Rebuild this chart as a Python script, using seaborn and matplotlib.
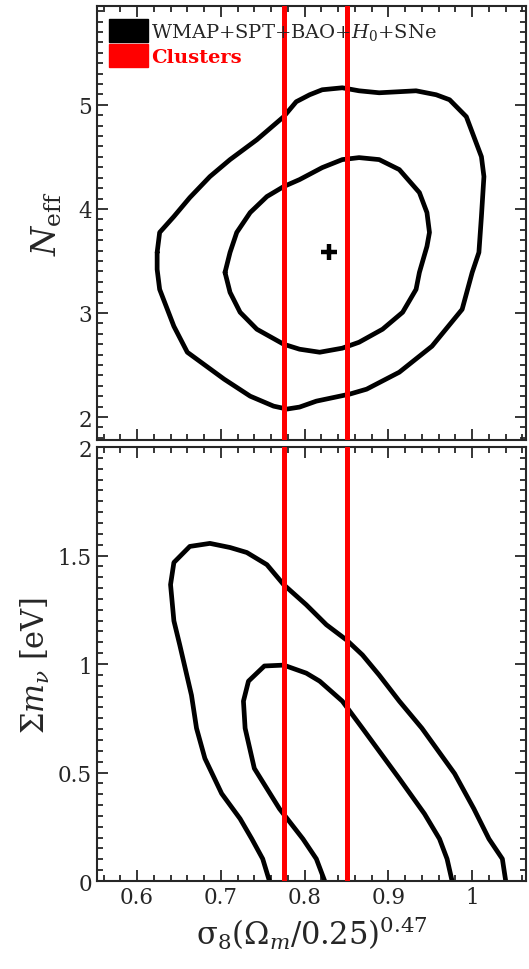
import matplotlib
matplotlib.use('Agg')
import matplotlib.pyplot as plt
from matplotlib.patches import Patch
from matplotlib.ticker import MultipleLocator, FuncFormatter
import seaborn as sns

# top panel: N_eff vs sigma8 (outer = 95%, inner = 68%)
neff_outer_x = [0.624, 0.627, 0.644, 0.663, 0.687, 0.711, 0.743, 0.775, 0.790, 0.806, 0.821, 0.845,
                0.865, 0.889, 0.933, 0.957, 0.973, 0.993, 1.011, 1.014, 1.011, 1.008, 1.000, 0.988,
                0.952, 0.913, 0.874, 0.854, 0.814, 0.794, 0.779, 0.763, 0.735, 0.704, 0.660, 0.644,
                0.627, 0.624, 0.624]
neff_outer_y = [3.582, 3.774, 3.927, 4.109, 4.311, 4.474, 4.665, 4.886, 5.030, 5.097, 5.145, 5.164,
                5.135, 5.116, 5.135, 5.097, 5.049, 4.886, 4.502, 4.311, 3.927, 3.582, 3.390, 3.035,
                2.681, 2.431, 2.268, 2.221, 2.153, 2.096, 2.077, 2.105, 2.201, 2.364, 2.623, 2.872,
                3.227, 3.419, 3.582]
neff_inner_x = [0.705, 0.711, 0.719, 0.735, 0.755, 0.775, 0.794, 0.821, 0.845, 0.865, 0.889, 0.913,
                0.937, 0.946, 0.949, 0.946, 0.937, 0.933, 0.917, 0.893, 0.865, 0.845, 0.818, 0.794,
                0.775, 0.743, 0.723, 0.711, 0.705]
neff_inner_y = [3.390, 3.582, 3.774, 3.965, 4.119, 4.215, 4.282, 4.397, 4.474, 4.493, 4.474, 4.378,
                4.157, 3.965, 3.774, 3.640, 3.390, 3.227, 3.007, 2.844, 2.719, 2.662, 2.623, 2.652,
                2.700, 2.844, 3.007, 3.198, 3.390]
best_fit = (0.829, 3.59)

# bottom panel: sum m_nu vs sigma8
mnu_outer_x = [0.758, 0.750, 0.737, 0.723, 0.701, 0.681, 0.671, 0.665, 0.651, 0.644, 0.640, 0.644,
               0.663, 0.687, 0.711, 0.731, 0.755, 0.775, 0.802, 0.826, 0.850, 0.869, 0.889, 0.913,
               0.940, 0.979, 1.002, 1.020, 1.036, 1.040]
mnu_outer_y = [0.000, 0.102, 0.194, 0.287, 0.403, 0.565, 0.704, 0.856, 1.088, 1.199, 1.366, 1.468,
               1.542, 1.556, 1.537, 1.514, 1.458, 1.366, 1.273, 1.181, 1.111, 1.042, 0.949, 0.829,
               0.704, 0.495, 0.333, 0.194, 0.102, 0.000]
mnu_inner_x = [0.824, 0.814, 0.798, 0.770, 0.740, 0.729, 0.727, 0.733, 0.752, 0.775, 0.802, 0.818,
               0.845, 0.869, 0.913, 0.943, 0.961, 0.970, 0.976]
mnu_inner_y = [0.000, 0.102, 0.194, 0.333, 0.519, 0.704, 0.829, 0.921, 0.991, 0.995, 0.958, 0.921,
               0.829, 0.704, 0.472, 0.310, 0.194, 0.102, 0.000]

# cluster constraint (1 sigma band edges)
cluster_bounds = [0.775, 0.85]

legend_labels = ['WMAP+SPT+BAO+$H_0$+SNe', 'Clusters']

sns.set_theme(style='ticks')
plt.rcParams['font.family'] = ['DejaVu Serif']
plt.rcParams['mathtext.fontset'] = 'dejavuserif'
plt.rcParams['axes.linewidth'] = 1.5

fig = plt.figure(figsize=(5.29, 9.70), dpi=100)
ax1 = fig.add_axes([0.183, 0.5454, 0.811, 0.4474])
ax2 = fig.add_axes([0.183, 0.0907, 0.811, 0.4474])

sns.lineplot(x=neff_outer_x, y=neff_outer_y, sort=False, estimator=None, color='black', lw=3.4, ax=ax1)
sns.lineplot(x=neff_inner_x, y=neff_inner_y, sort=False, estimator=None, color='black', lw=3.4, ax=ax1)
ax1.plot(best_fit[0], best_fit[1], marker='+', color='black', ms=12, mew=3.2)

sns.lineplot(x=mnu_outer_x, y=mnu_outer_y, sort=False, estimator=None, color='black', lw=3.4, ax=ax2)
sns.lineplot(x=mnu_inner_x, y=mnu_inner_y, sort=False, estimator=None, color='black', lw=3.4, ax=ax2)

for ax in (ax1, ax2):
    for b in cluster_bounds:
        ax.axvline(b, color='red', lw=3.6, zorder=5)
    ax.set_xlim(0.552, 1.064)
    ax.xaxis.set_major_locator(MultipleLocator(0.1))
    ax.xaxis.set_minor_locator(MultipleLocator(0.02))
    ax.tick_params(which='both', direction='in', top=True, right=True, labelsize=15.5, width=1.3)
    ax.tick_params(which='major', length=8)
    ax.tick_params(which='minor', length=4)

ax1.set_ylim(1.78, 5.95)
ax1.yaxis.set_major_locator(MultipleLocator(1))
ax1.yaxis.set_minor_locator(MultipleLocator(0.1))
ax1.tick_params(labelbottom=False)
ax1.set_ylabel('$N_{\\rm eff}$', fontsize=24, labelpad=10)

ax2.set_ylim(0, 2)
ax2.yaxis.set_major_locator(MultipleLocator(0.5))
ax2.yaxis.set_minor_locator(MultipleLocator(0.05))
fmt = FuncFormatter(lambda v, p: '%g' % v)
ax2.yaxis.set_major_formatter(fmt)
ax2.xaxis.set_major_formatter(fmt)
ax2.set_ylabel('Σ$m_{\\nu}$ [eV]', fontsize=22, labelpad=4)
ax2.set_xlabel('σ$_8$(Ω$_m$/0.25)$^{0.47}$', fontsize=22, labelpad=4)

handles = [Patch(facecolor='black', edgecolor='black'), Patch(facecolor='red', edgecolor='red')]
leg = ax1.legend(handles, legend_labels, loc='upper left', frameon=False, fontsize=14,
                 handlelength=2.0, handleheight=1.45, handletextpad=0.15, labelspacing=0.1,
                 borderaxespad=0.25)
leg.get_texts()[1].set_color('red')
leg.get_texts()[1].set_fontweight('bold')

fig.savefig('out.png', dpi=100)
